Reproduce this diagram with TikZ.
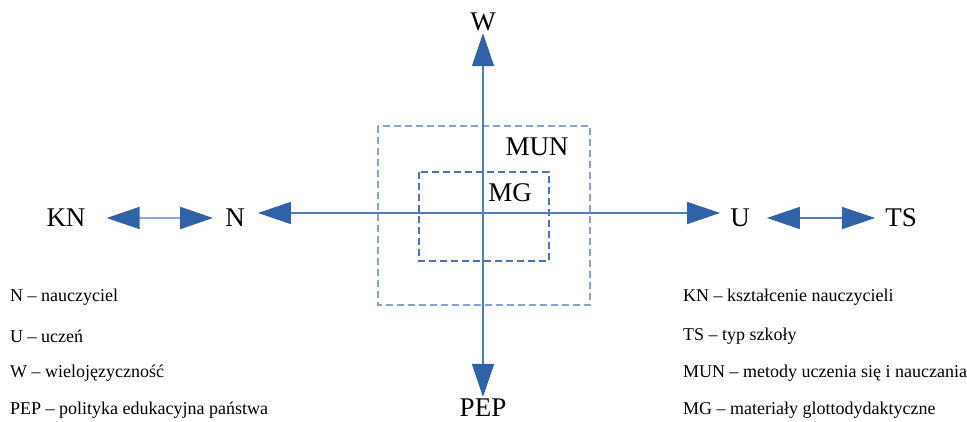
\documentclass[tikz,border=0pt]{standalone}
\usepackage{fontspec}
\setmainfont{Liberation Serif}
\usetikzlibrary{arrows.meta}
\definecolor{headblue}{HTML}{2F62A6}
\definecolor{lineblue}{HTML}{4F7DC0}
\definecolor{paleblue}{HTML}{8DA9D6}
\definecolor{boxblue}{HTML}{86A3D3}
\definecolor{inboxblue}{HTML}{4E73B0}
\begin{document}
\begin{tikzpicture}[x = 1pt, y = -1pt,
    lab/.style = {inner sep = 0pt, font = \fontsize{27}{30}\selectfont},
    leg/.style = {anchor = west, inner sep = 0pt, font = \fontsize{18}{21}\selectfont},
    both/.style = {{Triangle[length = 33pt, width = 22pt, color = headblue]}-{Triangle[length = 33pt, width = 22pt, color = headblue]}, line width = 1.5pt}]
    \useasboundingbox (0,0) rectangle (967,422);
%boxes
    \draw[boxblue, line width = 1.8pt, dash pattern = on 7pt off 4pt] (378,126) rectangle (590,305);
    \draw[inboxblue, line width = 1.5pt, dash pattern = on 7pt off 4pt] (419,172) rectangle (549,261);
%nodes
    \node[lab] (W) at (483,22) {W};
    \node[lab] (PEP) at (483,408) {PEP};
    \node[lab] (KN) at (66,218) {KN};
    \node[lab] (N) at (235,218) {N};
    \node[lab] (U) at (740,218) {U};
    \node[lab] (TS) at (901,218) {TS};
    \node[lab] (MUN) at (537,147) {MUN};
    \node[lab] (MG) at (510,193) {MG};
%arrows
    \draw[both, lineblue, shorten < = 2pt, shorten > = 2pt] (W.south) -- (PEP.north);
    \draw[both, lineblue, shorten < = 13pt, shorten > = 10pt] ([yshift = 5pt]N.east) -- ([yshift = 5pt]U.west);
    \draw[both, paleblue, line width = 2pt, shorten < = 21pt, shorten > = 12pt] (KN.east) -- (N.west);
    \draw[both, lineblue, shorten < = 17pt, shorten > = 10pt] (U.east) -- (TS.west);
%legend
    \node[leg] (l1) at (10,297) {N – nauczyciel};
    \node[leg] (l2) at (10,336) {U – uczeń};
    \node[leg] (l3) at (10,373) {W – wielojęzyczność};
    \node[leg] (l4) at (10,410) {PEP – polityka edukacyjna państwa};
    \node[leg] (r1) at (683,297) {KN – kształcenie nauczycieli};
    \node[leg] (r2) at (683,336) {TS – typ szkoły};
    \node[leg] (r3) at (683,373) {MUN – metody uczenia się i nauczania};
    \node[leg] (r4) at (683,410) {MG – materiały glottodydaktyczne};
\end{tikzpicture}
\end{document}
